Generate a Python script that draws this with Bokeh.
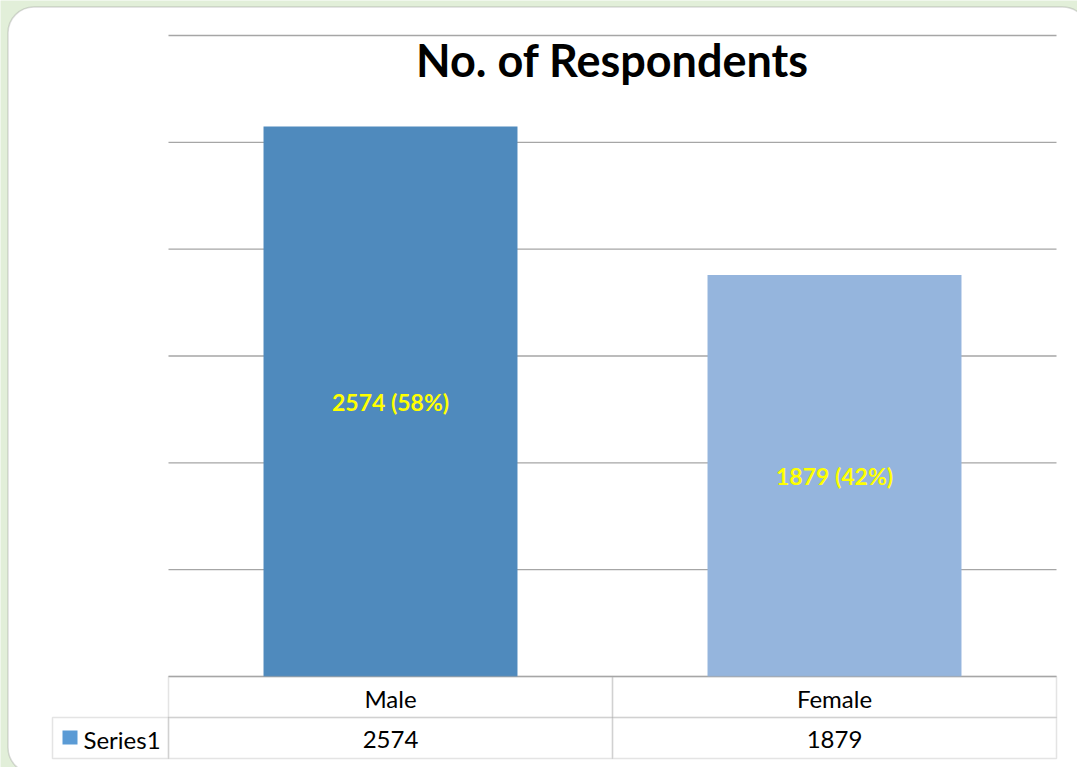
from bokeh.plotting import figure
from bokeh.models import Range1d, BoxAnnotation, Label
from bokeh.core.properties import value
from bokeh.embed import file_html
from bokeh.resources import INLINE

# ---- data ----
categories = ["Male", "Female"]
respondents = [2574, 1879]
series_name = "Series1"
title_text = "No. of Respondents"
grid_ticks = [0, 500, 1000, 1500, 2000, 2500, 3000]

bar_colors = ["#4f8abd", "#95b5dd"]
legend_color = "#5b9bd5"
line_gray = "#a6a6a6"
FONT = "Lato"

# ---- layout (page pixels) ----
ORG = 0
W, H = 1077 - ORG, 767 - ORG
F_LEFT, F_RIGHT, F_TOP, F_BOTTOM = 168, 1056, 35, 676   # plot area, page px
Y_MAX = 3000
n = len(categories)
col_w = (F_RIGHT - F_LEFT) / n
ppu = (F_BOTTOM - F_TOP) / Y_MAX

# default ranges = page pixel coordinates (y grows downward)
p = figure(
    x_range=Range1d(ORG, ORG + W), y_range=Range1d(ORG + H, ORG),
    width=W, height=H,
    output_backend="svg", toolbar_location=None,
    x_axis_location=None, y_axis_location=None,
    min_border=0, min_border_left=0, min_border_right=0, min_border_top=0, min_border_bottom=0,
    border_fill_color="#e2efd9", background_fill_color="#e2efd9",
    outline_line_color=None,
)
for g in p.grid:
    g.visible = False

# data ranges, mapped onto the plot area
p.extra_x_ranges = {"cat": Range1d((ORG - F_LEFT) / col_w, (ORG + W - F_LEFT) / col_w)}
p.extra_y_ranges = {"val": Range1d((F_BOTTOM - (ORG + H)) / ppu, (F_BOTTOM - ORG) / ppu)}

# rounded white panel
p.add_layout(BoxAnnotation(
    left=7.5, right=1088, top=6.5, bottom=773,
    fill_color="white", fill_alpha=1.0, line_color="#8c8c8c", line_width=1.5,
    border_radius=26, level="image", editable=False,
))

# horizontal gridlines
p.segment(x0=[0] * len(grid_ticks), x1=[n] * len(grid_ticks), y0=grid_ticks, y1=grid_ticks,
          line_color=line_gray, line_width=1.3, x_range_name="cat", y_range_name="val")

# bars
xs = [i + 0.5 for i in range(n)]
p.vbar(x=xs, top=respondents, width=0.572, fill_color=bar_colors, line_color=None,
       x_range_name="cat", y_range_name="val")

# value labels
total = sum(respondents)
labels = [f"{v} ({round(v / total * 100)}%)" for v in respondents]
p.text(x=xs, y=[v / 2 for v in respondents], text=labels, text_color="#ffff00",
       text_font=value(FONT), text_font_style="bold", text_font_size="23px",
       text_align="center", text_baseline="middle", x_range_name="cat", y_range_name="val")

# title
p.add_layout(Label(x=(F_LEFT + F_RIGHT) / 2, y=59, text=title_text, text_font=FONT,
                   text_font_style="bold", text_font_size="45px", text_align="center",
                   text_baseline="middle", text_color="black"))

# data table
ROW1_T, ROW1_B, ROW2_B = 676, 717, 758
LEG_L = 52
TFS = "24px"


def cell(l, r, t, b):
    p.add_layout(BoxAnnotation(left=l, right=r, top=t, bottom=b, fill_alpha=0,
                               line_color=line_gray, line_width=1.5, editable=False))


for i, (cat, v) in enumerate(zip(categories, respondents)):
    l = F_LEFT + i * col_w
    cell(l, l + col_w, ROW1_T, ROW1_B)
    cell(l, l + col_w, ROW1_B, ROW2_B)
    cx = l + col_w / 2
    p.add_layout(Label(x=cx, y=(ROW1_T + ROW1_B) / 2 + 1, text=cat, text_font=FONT,
                       text_font_size=TFS, text_align="center", text_baseline="middle",
                       text_color="black"))
    p.add_layout(Label(x=cx, y=(ROW1_B + ROW2_B) / 2 + 1, text=str(v), text_font=FONT,
                       text_font_size=TFS, text_align="center", text_baseline="middle",
                       text_color="black"))

cell(LEG_L, F_LEFT, ROW1_B, ROW2_B)
p.add_layout(BoxAnnotation(left=62, right=77, top=730, bottom=744, fill_color=legend_color,
                           fill_alpha=1.0, line_color=None, editable=False))
p.add_layout(Label(x=83, y=(ROW1_B + ROW2_B) / 2 + 1, text=series_name, text_font=FONT,
                   text_font_size=TFS, text_align="left", text_baseline="middle",
                   text_color="black"))

open("out.html", "w").write(file_html(p, INLINE))
